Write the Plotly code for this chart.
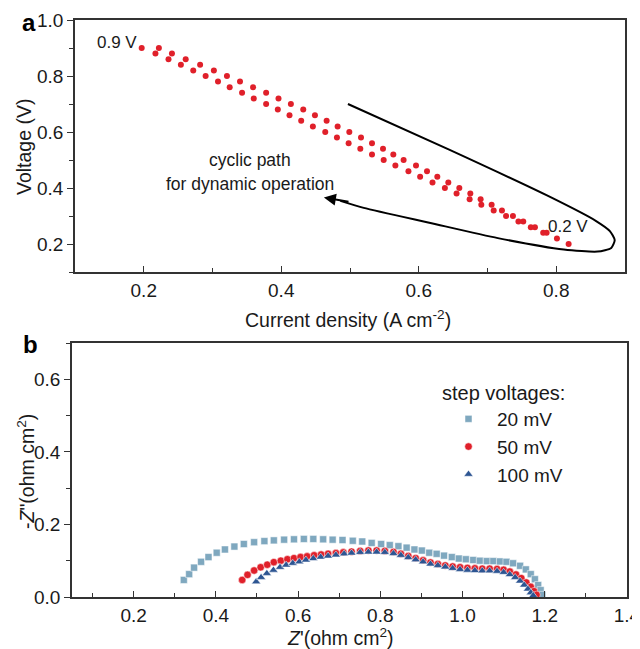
import plotly.graph_objects as go

# ---------------- Panel a data ----------------
volt_up = [0.90, 0.88, 0.86, 0.84, 0.82, 0.80, 0.78, 0.76, 0.74, 0.72, 0.70, 0.68,
           0.66, 0.64, 0.62, 0.60, 0.58, 0.56, 0.54, 0.52, 0.50, 0.48, 0.46, 0.44,
           0.42, 0.40, 0.38, 0.36, 0.34, 0.32, 0.30, 0.28, 0.26, 0.24, 0.22, 0.20]
curr_up = [0.222, 0.241, 0.261, 0.282, 0.302, 0.321, 0.340, 0.359, 0.378, 0.396, 0.414, 0.432,
           0.449, 0.466, 0.482, 0.499, 0.516, 0.532, 0.548, 0.563, 0.578, 0.596, 0.612, 0.627,
           0.643, 0.659, 0.675, 0.690, 0.706, 0.721, 0.737, 0.752, 0.769, 0.786, 0.801, 0.818]
volt_down = [0.90, 0.88, 0.86, 0.84, 0.82, 0.80, 0.78, 0.76, 0.74, 0.72, 0.70, 0.68,
             0.66, 0.64, 0.62, 0.60, 0.58, 0.56, 0.54, 0.52, 0.50, 0.48, 0.46, 0.44,
             0.42, 0.40, 0.38, 0.36, 0.34, 0.32, 0.30, 0.28, 0.26, 0.24]
curr_down = [0.197, 0.217, 0.236, 0.254, 0.272, 0.290, 0.308, 0.325, 0.343, 0.360, 0.378, 0.395,
             0.412, 0.429, 0.446, 0.464, 0.481, 0.498, 0.515, 0.532, 0.549, 0.566, 0.585, 0.602,
             0.620, 0.638, 0.655, 0.674, 0.691, 0.709, 0.727, 0.745, 0.763, 0.781]

# cyclic path guide (hand-drawn curve in the original)
path_x = [0.497, 0.645, 0.791, 0.858, 0.878, 0.885, 0.880, 0.860, 0.811, 0.715, 0.617, 0.520, 0.486]
path_y = [0.700, 0.536, 0.368, 0.282, 0.246, 0.214, 0.186, 0.173, 0.180, 0.221, 0.275, 0.329, 0.354]

# ---------------- Panel b data ----------------
z20_re = [0.322, 0.335, 0.347, 0.364, 0.382, 0.402, 0.422, 0.445, 0.468, 0.493, 0.518, 0.541,
          0.566, 0.590, 0.614, 0.637, 0.661, 0.684, 0.708, 0.733, 0.756, 0.779, 0.802, 0.823,
          0.844, 0.864, 0.883, 0.901, 0.919, 0.937, 0.955, 0.974, 0.991, 1.008, 1.026, 1.042,
          1.059, 1.075, 1.091, 1.107, 1.123, 1.140, 1.154, 1.166, 1.176, 1.184, 1.190, 1.194]
z20_im = [0.047, 0.063, 0.081, 0.097, 0.110, 0.122, 0.131, 0.139, 0.146, 0.151, 0.154, 0.156,
          0.158, 0.159, 0.160, 0.160, 0.159, 0.158, 0.157, 0.155, 0.153, 0.149, 0.146, 0.143,
          0.140, 0.136, 0.131, 0.128, 0.122, 0.119, 0.114, 0.110, 0.106, 0.104, 0.102, 0.100,
          0.099, 0.099, 0.098, 0.097, 0.093, 0.086, 0.076, 0.063, 0.049, 0.033, 0.019, 0.006]

z50_re = [0.464, 0.477, 0.493, 0.509, 0.525, 0.541, 0.558, 0.574, 0.590, 0.606, 0.622, 0.639,
          0.656, 0.673, 0.692, 0.710, 0.730, 0.751, 0.771, 0.791, 0.811, 0.832, 0.850, 0.868,
          0.886, 0.904, 0.922, 0.940, 0.958, 0.976, 0.994, 1.012, 1.030, 1.048, 1.066, 1.084,
          1.100, 1.115, 1.130, 1.143, 1.155, 1.166, 1.174, 1.180]
z50_im = [0.047, 0.061, 0.073, 0.082, 0.089, 0.096, 0.100, 0.104, 0.107, 0.110, 0.112, 0.115,
          0.117, 0.119, 0.121, 0.123, 0.125, 0.127, 0.128, 0.128, 0.127, 0.124, 0.119, 0.113,
          0.107, 0.101, 0.095, 0.091, 0.087, 0.084, 0.082, 0.080, 0.079, 0.078, 0.078, 0.077,
          0.075, 0.070, 0.062, 0.052, 0.040, 0.028, 0.016, 0.006]

z100_re = [0.498, 0.510, 0.524, 0.540, 0.556, 0.571, 0.587, 0.603, 0.619, 0.637, 0.655, 0.673,
           0.692, 0.712, 0.730, 0.751, 0.771, 0.791, 0.811, 0.832, 0.850, 0.868, 0.886, 0.904,
           0.922, 0.940, 0.958, 0.976, 0.994, 1.012, 1.030, 1.048, 1.066, 1.084, 1.100, 1.115,
           1.128, 1.140, 1.150, 1.159, 1.166, 1.172]
z100_im = [0.042, 0.054, 0.065, 0.074, 0.082, 0.088, 0.093, 0.097, 0.102, 0.106, 0.110, 0.113,
           0.116, 0.119, 0.121, 0.123, 0.124, 0.124, 0.123, 0.120, 0.115, 0.109, 0.103, 0.097,
           0.091, 0.087, 0.083, 0.079, 0.076, 0.074, 0.073, 0.072, 0.072, 0.071, 0.068, 0.062,
           0.054, 0.044, 0.033, 0.022, 0.012, 0.004]

legend_names = ["20 mV", "50 mV", "100 mV"]

RED = "#e0202a"
LIGHT = "#7fa8bf"
DARK = "#2d5592"
FONT = "Liberation Sans, Arial, sans-serif"
TXT = "#1a1a1a"

# The page body has an 8px margin; the figure starts at (8, 8) of the 640x649 window.
OFF = 8
W, H = 640 - OFF, 649 - OFF
ML, MR, MT, MB = 62, 12, 10, 50
PW, PH = W - ML - MR, H - MT - MB


def dx(px):
    """window pixel x -> paper fraction"""
    return (px - OFF - ML) / PW


def dy(py):
    """window pixel y -> paper fraction"""
    return 1 - (py - OFF - MT) / PH


fig = go.Figure()

# Panel a
fig.add_trace(go.Scatter(x=curr_up, y=volt_up, mode="markers", xaxis="x", yaxis="y",
                         marker=dict(color=RED, size=6), showlegend=False))
fig.add_trace(go.Scatter(x=curr_down, y=volt_down, mode="markers", xaxis="x", yaxis="y",
                         marker=dict(color=RED, size=6), showlegend=False))
fig.add_trace(go.Scatter(x=path_x, y=path_y, mode="lines", xaxis="x", yaxis="y",
                         line=dict(color="black", width=2, shape="spline", smoothing=0.6),
                         showlegend=False, hoverinfo="skip"))

# Panel b
fig.add_trace(go.Scatter(x=z20_re, y=z20_im, mode="markers", xaxis="x2", yaxis="y2",
                         name=legend_names[0],
                         marker=dict(symbol="square", color=LIGHT, size=7,
                                     line=dict(color="white", width=0.5))))
fig.add_trace(go.Scatter(x=z50_re, y=z50_im, mode="markers", xaxis="x2", yaxis="y2",
                         name=legend_names[1],
                         marker=dict(symbol="circle", color=RED, size=7.5,
                                     line=dict(color="white", width=0.5))))
fig.add_trace(go.Scatter(x=z100_re, y=z100_im, mode="markers", xaxis="x2", yaxis="y2",
                         name=legend_names[2],
                         marker=dict(symbol="triangle-up", color=DARK, size=8,
                                     line=dict(color="white", width=0.5))))

axis_common = dict(showline=True, linecolor="#333", linewidth=1.5, mirror=True,
                   showgrid=False, zeroline=False, ticklen=6, tickwidth=1.2, tickcolor="#333",
                   tickfont=dict(size=19, color=TXT, family=FONT), tickformat=".1f",
                   dtick=0.2, tick0=0, automargin=False, ticklabeloverflow="allow")
TITLE_FONT = dict(size=19.5, color=TXT, family=FONT)

fig.update_layout(
    width=W, height=H,
    template="none",
    margin=dict(l=ML, r=MR, t=MT, b=MB),
    paper_bgcolor="white", plot_bgcolor="white",
    font=dict(family=FONT, color=TXT),
    xaxis=dict(domain=[dx(75), dx(625)], anchor="y", range=[0.1, 0.9], ticks="inside",
               minor=dict(ticks="inside", dtick=0.1, tick0=0, ticklen=4, tickcolor="#333"),
               **axis_common),
    yaxis=dict(domain=[dy(272), dy(20)], anchor="x", range=[0.1, 1.0], ticks="outside",
               minor=dict(ticks="outside", dtick=0.1, tick0=0, ticklen=4, tickcolor="#333"),
               **axis_common),
    xaxis2=dict(domain=[dx(72), dx(627)], anchor="y2", range=[0.05, 1.4001], ticks="inside",
                minor=dict(ticks="inside", dtick=0.1, tick0=0, ticklen=4, tickcolor="#333"),
                **axis_common),
    yaxis2=dict(domain=[dy(597), dy(343)], anchor="x2", range=[0, 0.7], ticks="outside",
                minor=dict(ticks="outside", dtick=0.1, tick0=0, ticklen=4, tickcolor="#333"),
                **axis_common),
    legend=dict(x=dx(440), y=dy(374), xanchor="left", yanchor="top",
                bgcolor="rgba(0,0,0,0)", font=dict(size=19, color=TXT, family=FONT),
                title=dict(text="step voltages:", font=dict(size=20, color=TXT, family=FONT)),
                tracegroupgap=0, itemwidth=47),
    showlegend=True,
)

annotations = [
    dict(text="<b>a</b>", x=dx(29), y=dy(22), xref="paper", yref="paper",
         xanchor="center", yanchor="middle",
         showarrow=False, font=dict(size=24, color="black", family=FONT)),
    dict(text="<b>b</b>", x=dx(30), y=dy(344), xref="paper", yref="paper",
         xanchor="center", yanchor="middle",
         showarrow=False, font=dict(size=24, color="black", family=FONT)),
    # axis titles
    dict(text="Current density (A cm<sup>-2</sup>)", x=dx(348), y=dy(319), xref="paper",
         yref="paper", xanchor="center", yanchor="middle", showarrow=False, font=TITLE_FONT),
    dict(text="<i>Z</i>'(ohm cm<sup>2</sup>)", x=dx(340), y=dy(637), xref="paper",
         yref="paper", xanchor="center", yanchor="middle", showarrow=False, font=TITLE_FONT),
    dict(text="Voltage (V)", x=dx(24), y=dy(147), xref="paper", yref="paper",
         xanchor="center", yanchor="middle", textangle=-90, showarrow=False, font=TITLE_FONT),
    dict(text="-<i>Z</i>\"(ohm cm<sup>2</sup>)", x=dx(26), y=dy(472), xref="paper",
         yref="paper", xanchor="center", yanchor="middle", textangle=-90, showarrow=False,
         font=TITLE_FONT),
    # in-plot labels
    dict(text="0.9 V", x=0.161, y=0.921, xref="x", yref="y", showarrow=False,
         font=dict(size=17, color=TXT, family=FONT)),
    dict(text="0.2 V", x=0.817, y=0.262, xref="x", yref="y", showarrow=False,
         font=dict(size=17, color=TXT, family=FONT)),
    dict(text="cyclic path", x=0.354, y=0.500, xref="x", yref="y", showarrow=False,
         font=dict(size=17.5, color=TXT, family=FONT)),
    dict(text="for dynamic operation", x=0.354, y=0.414, xref="x", yref="y", showarrow=False,
         font=dict(size=17.5, color=TXT, family=FONT)),
    dict(x=0.462, y=0.366, ax=0.500, ay=0.350, xref="x", yref="y", axref="x", ayref="y",
         text="", showarrow=True, arrowhead=2, arrowsize=1.2, arrowwidth=2, arrowcolor="black"),
]
fig.update_layout(annotations=annotations)

fig.write_html("out.html")
